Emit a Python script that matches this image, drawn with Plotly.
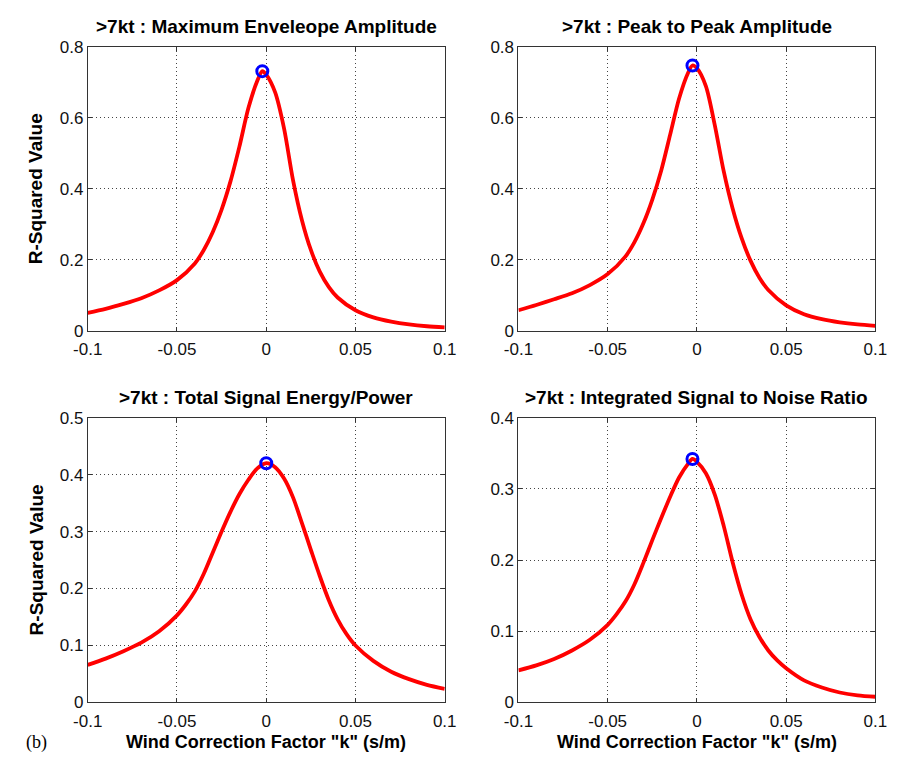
import plotly.graph_objects as go

# ---------------- data ----------------
titles = [
    ">7kt : Maximum Enveleope Amplitude",
    ">7kt : Peak to Peak Amplitude",
    ">7kt : Total Signal Energy/Power",
    ">7kt : Integrated Signal to Noise Ratio",
]

k1 = [-0.1, -0.09, -0.08, -0.07, -0.06, -0.05, -0.04, -0.035, -0.03, -0.025, -0.02, -0.015, -0.01, -0.005,
      -0.0022, 0.0, 0.005, 0.01, 0.015, 0.02, 0.025, 0.03, 0.035, 0.04, 0.05, 0.06, 0.07, 0.08, 0.09, 0.1]
r1 = [0.051, 0.062, 0.076, 0.092, 0.114, 0.143, 0.19, 0.228, 0.278, 0.342, 0.422, 0.52, 0.628, 0.705,
      0.732, 0.722, 0.672, 0.57, 0.425, 0.312, 0.228, 0.167, 0.124, 0.094, 0.058, 0.038, 0.026, 0.018, 0.013, 0.01]

k2 = [-0.1, -0.09, -0.08, -0.07, -0.06, -0.05, -0.04, -0.035, -0.03, -0.025, -0.02, -0.015, -0.01, -0.005,
      -0.0025, 0.0, 0.005, 0.01, 0.015, 0.02, 0.025, 0.03, 0.035, 0.04, 0.05, 0.06, 0.07, 0.08, 0.09, 0.1]
r2 = [0.058, 0.073, 0.089, 0.106, 0.129, 0.16, 0.21, 0.25, 0.303, 0.37, 0.452, 0.553, 0.655, 0.727,
      0.748, 0.74, 0.69, 0.58, 0.45, 0.345, 0.262, 0.198, 0.15, 0.115, 0.072, 0.047, 0.033, 0.024, 0.018, 0.014]

k3 = [-0.1, -0.09, -0.08, -0.07, -0.06, -0.05, -0.045, -0.04, -0.035, -0.03, -0.025, -0.02, -0.015, -0.01,
      -0.005, 0.0, 0.005, 0.01, 0.015, 0.02, 0.025, 0.03, 0.035, 0.04, 0.045, 0.05, 0.06, 0.07, 0.08, 0.09, 0.1]
r3 = [0.066, 0.077, 0.09, 0.105, 0.125, 0.153, 0.172, 0.195, 0.226, 0.263, 0.3, 0.335, 0.366, 0.391,
      0.411, 0.42, 0.413, 0.393, 0.36, 0.315, 0.268, 0.222, 0.18, 0.146, 0.12, 0.1, 0.073, 0.054, 0.041, 0.031, 0.024]

k4 = [-0.1, -0.09, -0.08, -0.07, -0.06, -0.05, -0.045, -0.04, -0.035, -0.03, -0.025, -0.02, -0.015, -0.01,
      -0.005, -0.0025, 0.0, 0.005, 0.01, 0.015, 0.02, 0.025, 0.03, 0.035, 0.04, 0.045, 0.05, 0.06, 0.07, 0.08,
      0.09, 0.1]
r4 = [0.045, 0.052, 0.061, 0.073, 0.088, 0.109, 0.124, 0.142, 0.166, 0.196, 0.228, 0.259, 0.289, 0.316,
      0.335, 0.342, 0.338, 0.322, 0.292, 0.248, 0.197, 0.152, 0.117, 0.092, 0.073, 0.059, 0.048, 0.031, 0.021,
      0.014, 0.01, 0.008]

peak_k = [-0.0022, -0.0025, 0.0, -0.0025]
peak_r = [0.732, 0.748, 0.42, 0.342]

x_ticks = [-0.1, -0.05, 0, 0.05, 0.1]
x_ticktext = ["-0.1", "-0.05", "0", "0.05", "0.1"]
y_ticks = [[0, 0.2, 0.4, 0.6, 0.8], [0, 0.2, 0.4, 0.6, 0.8],
           [0, 0.1, 0.2, 0.3, 0.4, 0.5], [0, 0.1, 0.2, 0.3, 0.4]]
y_ticktext = [["0", "0.2", "0.4", "0.6", "0.8"], ["0", "0.2", "0.4", "0.6", "0.8"],
              ["0", "0.1", "0.2", "0.3", "0.4", "0.5"], ["0", "0.1", "0.2", "0.3", "0.4"]]
y_ranges = [[0, 0.8], [0, 0.8], [0, 0.5], [0, 0.4]]
y_label = "R-Squared Value"
x_label = 'Wind Correction Factor "k" (s/m)'
panel_label = "(b)"

series_k = [k1, k2, k3, k4]
series_r = [r1, r2, r3, r4]

# ---------------- layout ----------------
W, H = 901, 770
FONT = "Liberation Sans, Arial, Helvetica, sans-serif"
# pixel boxes (left, right, top, bottom)
boxes = [(75, 443, 39, 330), (519, 887, 39, 330), (75, 443, 419, 711), (519, 887, 419, 711)]

fig = go.Figure()
layout = dict(
    width=W, height=H, margin=dict(l=0, r=0, t=0, b=0),
    paper_bgcolor="white", plot_bgcolor="white", showlegend=False,
    font=dict(family=FONT, size=17, color="black"),
)
annotations = []
for i in range(4):
    l, r, t, b = boxes[i]
    xa = "xaxis" if i == 0 else f"xaxis{i+1}"
    ya = "yaxis" if i == 0 else f"yaxis{i+1}"
    xref = "x" if i == 0 else f"x{i+1}"
    yref = "y" if i == 0 else f"y{i+1}"
    axis_common = dict(
        showline=True, linecolor="#333333", linewidth=1, mirror="ticks",
        showgrid=True, gridcolor="#444444", griddash="1px,3px", gridwidth=1,
        ticks="inside", ticklen=4, tickcolor="#333333", zeroline=False,
        tickfont=dict(family=FONT, size=17, color="#111111"),
    )
    layout[xa] = dict(axis_common, domain=[l / W, r / W], anchor=yref,
                      range=[-0.1, 0.1], tickvals=x_ticks, ticktext=x_ticktext,
                      ticklabelstandoff=3)
    layout[ya] = dict(axis_common, domain=[1 - b / H, 1 - t / H], anchor=xref,
                      range=y_ranges[i], tickvals=y_ticks[i], ticktext=y_ticktext[i])
    fig.add_trace(go.Scatter(x=series_k[i], y=series_r[i], mode="lines",
                             line=dict(color="#ff0000", width=3.8, shape="spline", smoothing=0.8),
                             xaxis=xref, yaxis=yref, hoverinfo="skip"))
    fig.add_trace(go.Scatter(x=[peak_k[i]], y=[peak_r[i]], mode="markers",
                             marker=dict(symbol="circle-open", size=11, color="#0000ff",
                                         line=dict(width=3, color="#0000ff")),
                             xaxis=xref, yaxis=yref, hoverinfo="skip"))
    annotations.append(dict(text=f"<b>{titles[i]}</b>", x=(l + r) / 2 / W, y=1 - (t - 21) / H,
                            xref="paper", yref="paper", showarrow=False,
                            xanchor="center", yanchor="middle",
                            font=dict(family=FONT, size=19, color="black")))
    if i in (0, 2):
        annotations.append(dict(text=f"<b>{y_label}</b>", x=22 / W, y=1 - (t + b) / 2 / H,
                                xref="paper", yref="paper", showarrow=False, textangle=-90,
                                xanchor="center", yanchor="middle",
                                font=dict(family=FONT, size=19, color="black")))
    if i in (2, 3):
        annotations.append(dict(text=f"<b>{x_label}</b>", x=(l + r) / 2 / W, y=1 - 752 / H,
                                xref="paper", yref="paper", showarrow=False,
                                xanchor="center", yanchor="middle",
                                font=dict(family=FONT, size=18, color="black")))

annotations.append(dict(text=panel_label, x=22 / W, y=1 - 752 / H, xref="paper", yref="paper",
                        showarrow=False, xanchor="center", yanchor="middle",
                        font=dict(family="Liberation Serif, Times New Roman, serif", size=18, color="black")))
layout["annotations"] = annotations
fig.update_layout(**layout)
fig.write_html("out.html")
